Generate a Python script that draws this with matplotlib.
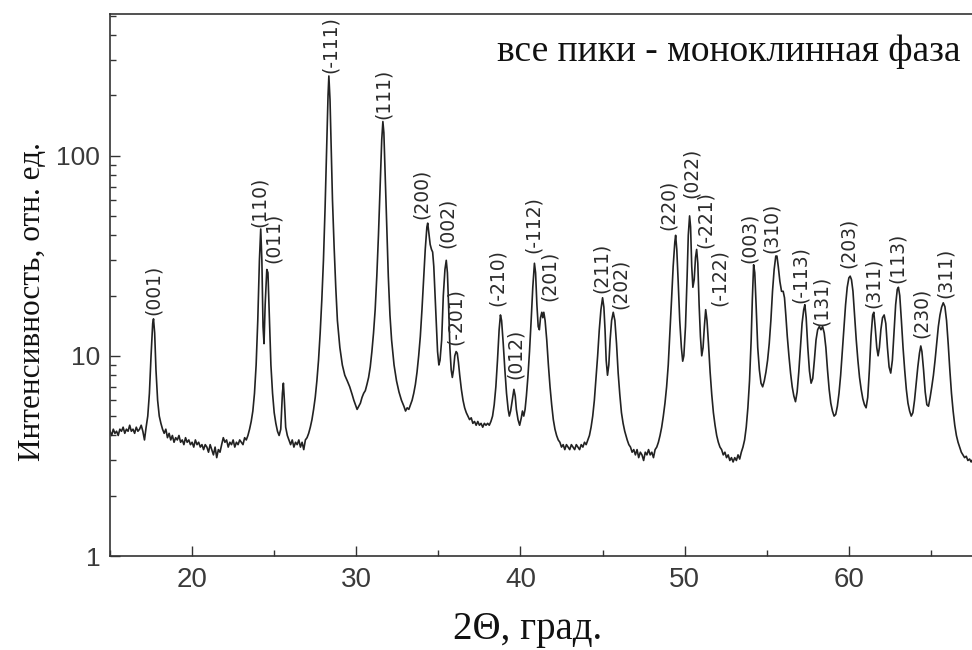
import matplotlib
matplotlib.use("Agg")
import matplotlib.pyplot as plt
from matplotlib.ticker import MultipleLocator, LogLocator, FixedFormatter, FixedLocator, NullFormatter

# XRD scan: (2Theta, intensity)
scan = [
    # 15 - 23.5 : background and (001)
    (15.0, 4.2), (15.1, 4.0), (15.2, 4.3), (15.3, 4.1), (15.4, 4.2), (15.5, 4.0), (15.6, 4.3),
    (15.7, 4.2), (15.8, 4.4), (15.9, 4.1), (16.0, 4.3), (16.1, 4.2), (16.2, 4.5), (16.3, 4.2),
    (16.4, 4.3), (16.5, 4.1), (16.6, 4.4), (16.7, 4.2), (16.8, 4.3), (16.9, 4.5), (17.0, 4.2),
    (17.1, 3.8), (17.2, 4.4), (17.3, 5.0), (17.4, 6.5), (17.5, 10.0), (17.6, 14.5), (17.65, 15.3),
    (17.72, 13.0), (17.8, 8.5), (17.9, 6.0), (18.0, 5.0), (18.1, 4.6), (18.2, 4.3), (18.3, 4.1),
    (18.4, 4.3), (18.5, 3.9), (18.6, 4.1), (18.7, 3.8), (18.8, 4.0), (18.9, 3.7), (19.0, 3.9),
    (19.1, 3.8), (19.2, 4.0), (19.3, 3.7), (19.4, 3.8), (19.5, 3.6), (19.6, 3.9), (19.7, 3.7),
    (19.8, 3.8), (19.9, 3.6), (20.0, 3.7), (20.1, 3.5), (20.2, 3.8), (20.3, 3.6), (20.4, 3.7),
    (20.5, 3.5), (20.6, 3.6), (20.7, 3.4), (20.8, 3.6), (20.9, 3.5), (21.0, 3.3), (21.1, 3.6),
    (21.2, 3.4), (21.3, 3.2), (21.4, 3.5), (21.5, 3.1), (21.6, 3.4), (21.7, 3.3), (21.8, 3.6),
    (21.9, 3.9), (22.0, 3.7), (22.1, 3.8), (22.2, 3.5), (22.3, 3.7), (22.4, 3.6), (22.5, 3.8),
    (22.6, 3.5), (22.7, 3.7), (22.8, 3.6), (22.9, 3.8), (23.0, 3.7), (23.1, 3.6), (23.2, 3.9),
    (23.3, 3.8), (23.4, 4.0), (23.5, 4.3),
    # (110), (011), small 25.6 peak
    (23.6, 4.7), (23.7, 5.3), (23.8, 6.5), (23.9, 9.0), (24.0, 15.0), (24.1, 30.0), (24.18, 43.0),
    (24.25, 30.0), (24.32, 14.0), (24.38, 11.5), (24.45, 18.0), (24.55, 27.0), (24.62, 26.0),
    (24.7, 16.0), (24.8, 9.0), (24.9, 6.5), (25.0, 5.2), (25.1, 4.6), (25.2, 4.2), (25.3, 4.0),
    (25.4, 4.3), (25.5, 6.5), (25.56, 7.3), (25.62, 6.0), (25.7, 4.4), (25.8, 4.0), (25.9, 3.8),
    (26.0, 3.6), (26.1, 3.8), (26.2, 3.5), (26.3, 3.7), (26.4, 3.6), (26.5, 3.8), (26.6, 3.5),
    (26.7, 3.7), (26.8, 3.4), (26.9, 3.8), (27.0, 3.9), (27.1, 4.1), (27.2, 4.4), (27.3, 4.8),
    # (-111), (111)
    (27.4, 5.4), (27.5, 6.2), (27.6, 7.5), (27.7, 9.5), (27.8, 13.0), (27.9, 19.0), (28.0, 30.0),
    (28.1, 55.0), (28.2, 110.0), (28.28, 200.0), (28.33, 250.0), (28.4, 190.0), (28.48, 100.0),
    (28.55, 60.0), (28.65, 35.0), (28.75, 22.0), (28.85, 15.0), (29.0, 11.0), (29.15, 9.0),
    (29.3, 8.0), (29.45, 7.5), (29.6, 7.0), (29.75, 6.4), (29.85, 6.0), (29.95, 5.7), (30.05, 5.4),
    (30.15, 5.6), (30.25, 5.8), (30.35, 6.2), (30.45, 6.5), (30.55, 6.7), (30.65, 7.2), (30.75, 7.8),
    (30.85, 8.8), (30.95, 10.5), (31.05, 13.0), (31.15, 17.0), (31.25, 25.0), (31.35, 40.0),
    (31.45, 70.0), (31.55, 120.0), (31.62, 148.0), (31.68, 130.0), (31.75, 85.0), (31.85, 45.0),
    (31.95, 25.0), (32.05, 16.0), (32.15, 12.0), (32.3, 9.0), (32.45, 7.5), (32.6, 6.6),
    (32.75, 6.0), (32.9, 5.6), (33.0, 5.3), (33.1, 5.5), (33.2, 5.4), (33.3, 5.7),
    # (200), (002), (-201)
    (33.4, 6.0), (33.5, 6.5), (33.6, 7.2), (33.7, 8.3), (33.8, 10.0), (33.9, 12.5), (34.0, 17.0),
    (34.1, 24.0), (34.2, 34.0), (34.3, 44.0), (34.35, 46.0), (34.42, 41.0), (34.5, 36.0),
    (34.58, 34.0), (34.65, 33.0), (34.72, 28.0), (34.8, 20.0), (34.88, 14.0), (34.95, 10.5),
    (35.03, 9.0), (35.1, 9.5), (35.2, 12.0), (35.3, 20.0), (35.4, 27.0), (35.48, 30.0),
    (35.55, 26.0), (35.62, 18.0), (35.7, 11.0), (35.78, 8.5), (35.85, 7.8), (35.92, 8.5),
    (36.0, 10.0), (36.08, 10.5), (36.15, 10.3), (36.22, 9.3), (36.3, 8.0), (36.4, 6.8), (36.5, 6.0),
    (36.6, 5.5), (36.7, 5.2), (36.8, 5.0), (36.9, 4.8), (37.0, 4.9), (37.1, 4.6), (37.2, 4.7),
    (37.3, 4.5), (37.4, 4.7), (37.5, 4.5), (37.6, 4.6), (37.7, 4.4), (37.8, 4.6), (37.9, 4.5),
    (38.0, 4.6), (38.1, 4.5), (38.2, 4.7),
    # (-210), (012), (-112), (201)
    (38.3, 5.0), (38.4, 5.7), (38.5, 7.0), (38.6, 9.5), (38.7, 13.5), (38.78, 16.0), (38.85, 15.0),
    (38.95, 11.5), (39.05, 8.5), (39.15, 6.5), (39.25, 5.4), (39.32, 5.0), (39.4, 5.3), (39.5, 6.0),
    (39.6, 6.8), (39.68, 6.3), (39.75, 5.4), (39.85, 4.8), (39.95, 4.5), (40.05, 4.9), (40.12, 5.3),
    (40.2, 5.0), (40.28, 5.4), (40.36, 6.3), (40.45, 7.8), (40.55, 10.5), (40.65, 15.0),
    (40.75, 22.0), (40.85, 29.0), (40.92, 26.0), (41.0, 18.0), (41.08, 14.0), (41.15, 13.5),
    (41.22, 15.5), (41.3, 16.5), (41.36, 15.5), (41.42, 16.5), (41.5, 15.0), (41.6, 12.0),
    (41.7, 9.0), (41.8, 7.0), (41.9, 5.7), (42.0, 4.8), (42.1, 4.3), (42.2, 4.0), (42.3, 3.8),
    (42.4, 3.7), (42.5, 3.5), (42.6, 3.6), (42.7, 3.4), (42.8, 3.6), (42.9, 3.5), (43.0, 3.4),
    (43.1, 3.6), (43.2, 3.5), (43.3, 3.4), (43.4, 3.6), (43.5, 3.5), (43.6, 3.4), (43.7, 3.6),
    (43.8, 3.5), (43.9, 3.7), (44.0, 3.6), (44.1, 3.8), (44.2, 4.0),
    # (211), (202)
    (44.3, 4.4), (44.4, 5.0), (44.5, 6.0), (44.6, 7.8), (44.7, 10.0), (44.8, 13.5), (44.9, 17.0),
    (45.0, 19.5), (45.08, 17.5), (45.15, 13.5), (45.22, 9.5), (45.3, 8.0), (45.38, 9.0),
    (45.46, 12.0), (45.55, 15.0), (45.65, 16.5), (45.75, 15.0), (45.85, 11.5), (45.95, 8.2),
    (46.05, 6.4), (46.15, 5.2), (46.25, 4.6), (46.35, 4.2), (46.5, 3.8), (46.6, 3.6), (46.7, 3.5),
    (46.8, 3.3), (46.9, 3.4), (47.0, 3.2), (47.1, 3.4), (47.2, 3.1), (47.3, 3.3), (47.4, 3.2),
    (47.5, 3.0), (47.6, 3.3), (47.7, 3.2), (47.8, 3.4), (47.9, 3.2), (48.0, 3.3), (48.1, 3.1),
    (48.2, 3.4), (48.3, 3.5),
    # (220), (022), (-221), (-122)
    (48.4, 3.7), (48.5, 4.0), (48.6, 4.4), (48.7, 5.0), (48.8, 5.8), (48.9, 7.0), (49.0, 9.0),
    (49.1, 13.0), (49.2, 19.0), (49.3, 28.0), (49.4, 37.0), (49.45, 40.0), (49.52, 34.0),
    (49.6, 24.0), (49.7, 15.0), (49.8, 11.0), (49.88, 9.4), (49.95, 10.0), (50.05, 14.0),
    (50.15, 25.0), (50.22, 40.0), (50.3, 50.0), (50.36, 44.0), (50.43, 28.0), (50.5, 22.0),
    (50.58, 24.0), (50.66, 31.0), (50.73, 34.0), (50.8, 29.0), (50.88, 18.0), (50.96, 12.5),
    (51.04, 10.0), (51.12, 11.0), (51.2, 14.0), (51.28, 17.0), (51.36, 15.0), (51.45, 11.5),
    (51.55, 8.3), (51.65, 6.4), (51.75, 5.2), (51.85, 4.5), (51.95, 4.0), (52.05, 3.7),
    (52.15, 3.5), (52.25, 3.4), (52.35, 3.2), (52.45, 3.3), (52.55, 3.1), (52.65, 3.2),
    (52.75, 3.0), (52.85, 3.1), (52.95, 2.95), (53.05, 3.1), (53.15, 3.0), (53.25, 3.2),
    (53.35, 3.05), (53.45, 3.3),
    # (003), (310), (-113), (131)
    (53.55, 3.5), (53.65, 3.8), (53.75, 4.4), (53.85, 5.5), (53.95, 7.5), (54.05, 12.0),
    (54.12, 19.0), (54.2, 28.5), (54.27, 26.0), (54.35, 18.0), (54.45, 11.0), (54.55, 8.5),
    (54.65, 7.3), (54.75, 7.0), (54.85, 7.5), (54.95, 8.3), (55.05, 9.5), (55.15, 11.5),
    (55.25, 15.0), (55.35, 21.0), (55.45, 27.0), (55.55, 31.5), (55.62, 31.5), (55.7, 28.0),
    (55.8, 23.5), (55.9, 21.0), (56.0, 21.0), (56.08, 19.5), (56.16, 16.0), (56.25, 12.5),
    (56.35, 10.0), (56.45, 8.2), (56.55, 7.0), (56.65, 6.3), (56.75, 5.9), (56.85, 6.6),
    (56.95, 8.3), (57.05, 11.0), (57.15, 14.5), (57.25, 17.0), (57.32, 18.0), (57.4, 15.5),
    (57.5, 11.0), (57.6, 8.4), (57.7, 7.3), (57.8, 7.7), (57.9, 9.5), (58.0, 12.0), (58.1, 13.5),
    (58.2, 14.0), (58.3, 13.5), (58.4, 14.0), (58.5, 13.0), (58.6, 11.0), (58.7, 8.5), (58.8, 6.8),
    (58.9, 5.8), (59.0, 5.3), (59.1, 5.0), (59.2, 5.1), (59.3, 5.6),
    # (203), (311), (113), (230), (311)
    (59.4, 6.5), (59.5, 8.0), (59.6, 10.5), (59.7, 14.0), (59.8, 18.0), (59.9, 22.0), (60.0, 24.5),
    (60.08, 25.0), (60.16, 24.0), (60.25, 21.0), (60.35, 16.0), (60.45, 12.0), (60.55, 9.5),
    (60.65, 7.8), (60.75, 6.8), (60.85, 6.1), (60.95, 5.7), (61.05, 5.5), (61.15, 6.2),
    (61.25, 8.5), (61.35, 12.5), (61.45, 16.0), (61.52, 16.5), (61.6, 14.0), (61.7, 11.0),
    (61.78, 10.0), (61.86, 11.0), (61.95, 13.5), (62.05, 15.5), (62.15, 16.0), (62.25, 14.5),
    (62.35, 11.0), (62.45, 8.8), (62.55, 8.2), (62.65, 9.5), (62.75, 13.0), (62.85, 18.0),
    (62.95, 21.5), (63.02, 22.0), (63.1, 20.0), (63.2, 15.0), (63.3, 11.0), (63.4, 8.5),
    (63.5, 6.8), (63.6, 5.8), (63.7, 5.3), (63.8, 5.0), (63.9, 5.2), (64.0, 6.0), (64.1, 7.3),
    (64.2, 8.8), (64.3, 10.3), (64.38, 11.2), (64.45, 10.5), (64.55, 8.5), (64.65, 6.6),
    (64.75, 5.7), (64.85, 5.6), (64.95, 6.2), (65.05, 7.0), (65.15, 8.0), (65.25, 9.5),
    (65.35, 11.5), (65.45, 14.0), (65.55, 16.0), (65.65, 17.5), (65.75, 18.4), (65.85, 17.6),
    (65.95, 15.0), (66.05, 11.5), (66.15, 8.5), (66.25, 6.5), (66.35, 5.3), (66.45, 4.5),
    (66.55, 4.0), (66.65, 3.7), (66.75, 3.5), (66.85, 3.3), (66.95, 3.2), (67.05, 3.1),
    (67.15, 3.15), (67.25, 3.0), (67.35, 3.05), (67.45, 2.95), (67.5, 3.0),
]
two_theta = [p[0] for p in scan]
intensity = [p[1] for p in scan]

# peak labels: text, 2Theta of label centre, intensity at label bottom
peak_names = ["(001)", "(110)", "(011)", "(-111)", "(111)", "(200)", "(002)", "(-201)",
              "(-210)", "(012)", "(-112)", "(201)", "(211)", "(202)", "(220)", "(022)",
              "(-221)", "(-122)", "(003)", "(310)", "(-113)", "(131)", "(203)", "(311)",
              "(113)", "(230)", "(311)"]
peak_pos = [17.64, 24.11, 24.96, 28.43, 31.66, 33.97, 35.55, 36.04,
            38.6, 39.7, 40.8, 41.77, 44.94, 46.1, 49.0, 50.42,
            51.27, 52.12, 53.95, 55.29, 57.06, 58.33, 59.98, 61.5,
            62.96, 64.42, 65.88]
peak_lab_y = [16.0, 44.0, 29.0, 260, 152, 48.5, 34.5, 11.3,
              17.8, 7.7, 32.5, 18.8, 20.7, 17.2, 42.5, 61.5,
              34.5, 17.8, 29.0, 32.5, 18.4, 14.1, 27.5, 17.4,
              23.2, 12.3, 19.5]

fig = plt.figure(figsize=(9.72, 6.5), dpi=100)
ax = fig.add_axes([110 / 972, 94 / 650, 1 - 110 / 972, 542 / 650])

ax.plot(two_theta, intensity, color="#222222", lw=1.2)

ax.set_yscale("log")
ax.set_xlim(15, 67.5)
ax.set_ylim(1, 510)

ax.xaxis.set_major_locator(MultipleLocator(10))
ax.xaxis.set_minor_locator(MultipleLocator(5))
ax.yaxis.set_major_locator(FixedLocator([1, 10, 100]))
ax.yaxis.set_major_formatter(FixedFormatter(["1", "10", "100"]))
ax.yaxis.set_minor_locator(LogLocator(base=10, subs=range(2, 10)))
ax.yaxis.set_minor_formatter(NullFormatter())

for s in ["left", "bottom", "top"]:
    ax.spines[s].set_color("#333333")
    ax.spines[s].set_linewidth(1.2)
ax.spines["right"].set_visible(False)

ax.tick_params(which="both", direction="in", color="#333333", width=1.0,
               top=False, right=False)
ax.tick_params(which="major", length=7)
ax.tick_params(which="minor", length=4)
ax.tick_params(axis="y", labelsize=19, pad=7, labelcolor="#3a3a3a")
ax.tick_params(axis="x", labelsize=20, pad=8, labelcolor="#3a3a3a")
for lab in ax.get_xticklabels() + ax.get_yticklabels():
    lab.set_fontfamily("Liberation Sans")

for name, x, y in zip(peak_names, peak_pos, peak_lab_y):
    ax.text(x, y, name, rotation=90, ha="center", va="bottom", fontsize=13.5,
            family="DejaVu Sans", color="#2b2b2b")

fig.text(960 / 972, 1 - 52 / 650, "все пики - моноклинная фаза", ha="right", va="center",
         fontsize=27, family="Liberation Serif", color="#111111")
fig.text(33 / 972, 1 - 302 / 650, "Интенсивность, отн. ед.", rotation=90, ha="center",
         va="center", fontsize=22.5, family="Liberation Serif", color="#111111")
fig.text(528 / 972, 1 - 629 / 650, "2Θ, град.", ha="center", va="center",
         fontsize=28, family="Liberation Serif", color="#111111")

fig.savefig("out.png", dpi=100)
